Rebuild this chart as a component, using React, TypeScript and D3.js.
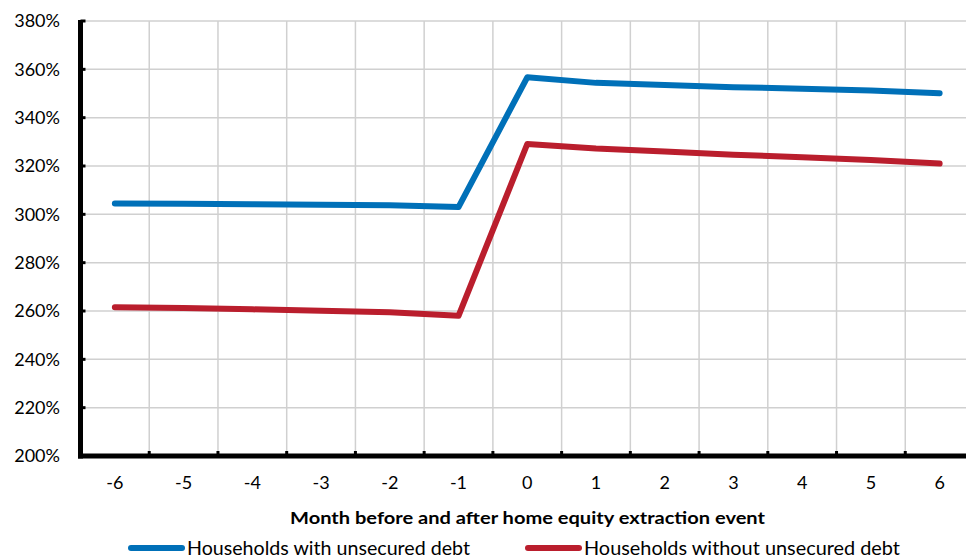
import React from "react";
import * as d3 from "d3";

const months = [-6, -5, -4, -3, -2, -1, 0, 1, 2, 3, 4, 5, 6];
const withDebt = [304.5, 304.4, 304.2, 304.0, 303.8, 303.0, 356.7, 354.4, 353.5, 352.6, 352.0, 351.2, 350.1];
const withoutDebt = [261.6, 261.2, 260.7, 260.1, 259.5, 258.0, 329.1, 327.2, 326.0, 324.7, 323.6, 322.5, 321.0];
const yTicks = [200, 220, 240, 260, 280, 300, 320, 340, 360, 380];
const seriesNames = ["Households with unsecured debt", "Households without unsecured debt"];
const colors = ["#0070B8", "#BA1E2D"];

const W = 966, H = 560;
const font = "Lato, 'Open Sans', sans-serif";

export default function App() {
  const left = 80.5, right = 974, top = 21, bottom = 456;
  const x = d3.scaleBand<number>().domain(months).range([left, right]);
  const cx = (m: number) => (x(m) as number) + x.bandwidth() / 2;
  const y = d3.scaleLinear().domain([200, 380]).range([bottom, top]);
  const line = d3.line<number>().x((_, i) => cx(months[i])).y(v => y(v));
  const boundaries = months.map(m => (x(m) as number) + x.bandwidth());
  const legend = [
    { lx: 128, tx: 187, tw: 283 },
    { lx: 525, tx: 584, tw: 316 },
  ];
  return (
    <svg width={W} height={H} style={{ position: "absolute", left: 0, top: 0, background: "#fff" }}>
      <rect width={W} height={H} fill="#fff" />
      {yTicks.map(t => (
        <line key={"h" + t} x1={left} x2={right} y1={y(t)} y2={y(t)} stroke="#d0d0d0" strokeWidth={1.5} />
      ))}
      {boundaries.map((b, i) => (
        <line key={"v" + i} x1={b} x2={b} y1={top} y2={bottom} stroke="#d0d0d0" strokeWidth={1.5} />
      ))}
      {[withDebt, withoutDebt].map((s, i) => (
        <path key={i} d={line(s) || ""} fill="none" stroke={colors[i]} strokeWidth={6} strokeLinejoin="round" strokeLinecap="round" />
      ))}
      <line x1={left} x2={left} y1={top - 1} y2={bottom + 2.5} stroke="#000" strokeWidth={5} />
      <line x1={left - 2.5} x2={right} y1={bottom} y2={bottom} stroke="#000" strokeWidth={5} />
      {yTicks.map(t => (
        <line key={"yt" + t} x1={left} x2={left + 5} y1={y(t)} y2={y(t)} stroke="#000" strokeWidth={3} />
      ))}
      {boundaries.slice(0, -1).map((b, i) => (
        <line key={"xt" + i} x1={b} x2={b} y1={bottom} y2={bottom - 5} stroke="#000" strokeWidth={3} />
      ))}
      {yTicks.map(t => (
        <text key={"yl" + t} x={60} y={y(t)} dy="0.35em" textAnchor="end" fontFamily={font} fontSize={18} fill="#000">{t}%</text>
      ))}
      {months.map(m => (
        <text key={"xl" + m} x={cx(m)} y={483} dy="0.35em" textAnchor="middle" fontFamily={font} fontSize={18} fill="#000">{m}</text>
      ))}
      <text x={290} y={518} dy="0.35em" textLength={475} lengthAdjust="spacingAndGlyphs" fontFamily={font} fontSize={17.5} fontWeight="bold" fill="#000">
        Month before and after home equity extraction event
      </text>
      {seriesNames.map((n, i) => {
        const { lx, tx, tw } = legend[i];
        return (
          <g key={n}>
            <line x1={lx + 3} x2={lx + 54} y1={548} y2={548} stroke={colors[i]} strokeWidth={6} strokeLinecap="round" />
            <text x={tx} y={549} dy="0.35em" textLength={tw} lengthAdjust="spacingAndGlyphs" fontFamily={font} fontSize={18.5} fill="#000">{n}</text>
          </g>
        );
      })}
    </svg>
  );
}
